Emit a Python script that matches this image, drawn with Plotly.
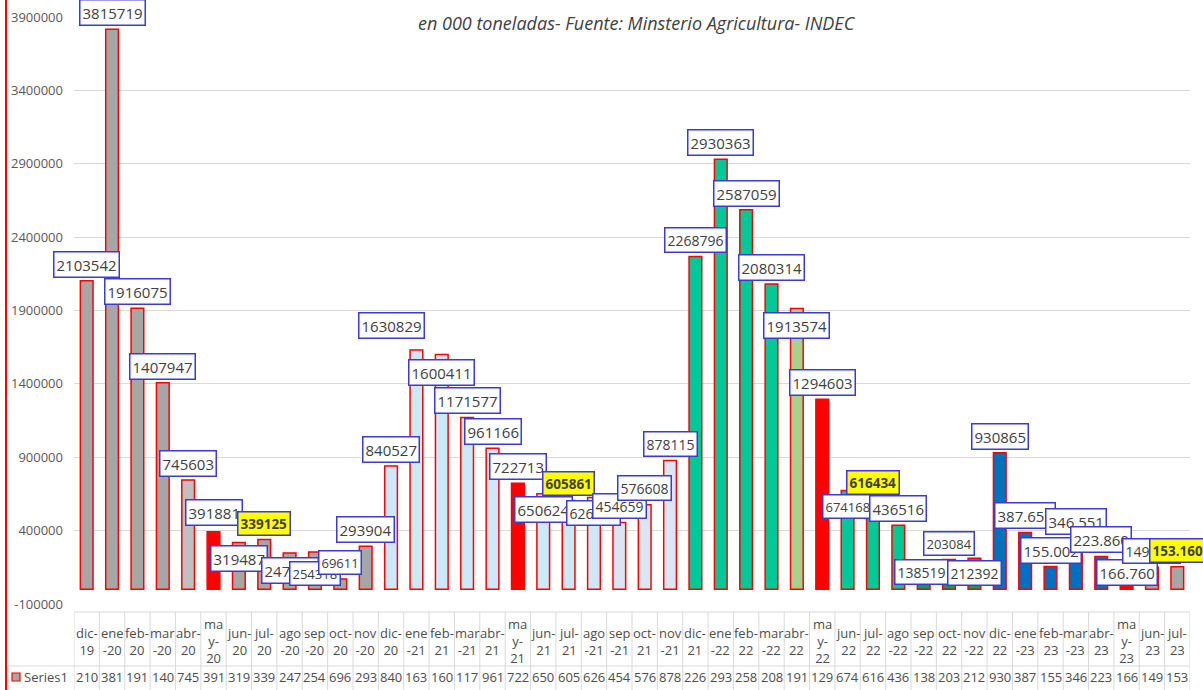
import plotly.graph_objects as go

# ---------------- data ----------------
categories = ["dic-19", "ene-20", "feb-20", "mar-20", "abr-20", "may-20", "jun-20", "jul-20",
              "ago-20", "sep-20", "oct-20", "nov-20", "dic-20", "ene-21", "feb-21", "mar-21",
              "abr-21", "may-21", "jun-21", "jul-21", "ago-21", "sep-21", "oct-21", "nov-21",
              "dic-21", "ene-22", "feb-22", "mar-22", "abr-22", "may-22", "jun-22", "jul-22",
              "ago-22", "sep-22", "oct-22", "nov-22", "dic-22", "ene-23", "feb-23", "mar-23",
              "abr-23", "may-23", "jun-23", "jul-23"]

# category labels as wrapped in the data table
cat_labels = ["dic-<br>19", "ene<br>-20", "feb-<br>20", "mar<br>-20", "abr-<br>20", "ma<br>y-<br>20",
              "jun-<br>20", "jul-<br>20", "ago<br>-20", "sep<br>-20", "oct-<br>20", "nov<br>-20",
              "dic-<br>20", "ene<br>-21", "feb-<br>21", "mar<br>-21", "abr-<br>21", "ma<br>y-<br>21",
              "jun-<br>21", "jul-<br>21", "ago<br>-21", "sep<br>-21", "oct-<br>21", "nov<br>-21",
              "dic-<br>21", "ene<br>-22", "feb-<br>22", "mar<br>-22", "abr-<br>22", "ma<br>y-<br>22",
              "jun-<br>22", "jul-<br>22", "ago<br>-22", "sep<br>-22", "oct-<br>22", "nov<br>-22",
              "dic-<br>22", "ene<br>-23", "feb-<br>23", "mar<br>-23", "abr-<br>23", "ma<br>y-<br>23",
              "jun-<br>23", "jul-<br>23"]

values = [2103542, 3815719, 1916075, 1407947, 745603, 391881, 319487, 339125,
          247402, 254318, 69611, 293904, 840527, 1630829, 1600411, 1171577,
          961166, 722713, 650624, 605861, 626252, 454659, 576608, 878115,
          2268796, 2930363, 2587059, 2080314, 1913574, 1294603, 674168, 616434,
          436516, 138519, 203084, 212392, 930865, 387652, 155002, 346551,
          223860, 166760, 149580, 153160]

series_name = "Series1"
title_text = "en 000 toneladas- Fuente: Minsterio Agricultura- INDEC"
y_ticks = [-100000, 400000, 900000, 1400000, 1900000, 2400000, 2900000, 3400000, 3900000]

# ---------------- styles ----------------
GRAY = "#a6a6a6"; LGRAY = "#c0c0c0"; RED = "#ff0000"; LBLUE = "#cde9f9"; PBLUE = "#dce6f2"
TEAL = "#00c896"; LGREEN = "#a9d18e"; DGREEN = "#00a060"; BLUE = "#0070c0"
bar_colors = ([GRAY] * 4 + [LGRAY] + [RED] + [GRAY] * 6 + [LBLUE] * 5 + [RED] + [LBLUE] * 3 +
              [PBLUE] * 3 + [TEAL] * 4 + [LGREEN] + [RED] + [TEAL] * 3 + [DGREEN] * 3 +
              [BLUE] * 5 + [RED] + [GRAY] * 2)

highlight = {7, 19, 31, 43}                 # yellow labels
label_below = {6: 16, 8: 17, 9: 21, 14: 18, 18: 16, 20: 16, 28: 17, 30: 16, 33: 3, 35: 15, 41: 8}
label_dx = {13: -25, 33: -2}
label_dy_special = {13: -25, 5: -19}
small12 = {9, 10, 30, 34}
small13 = {20, 21, 22, 23, 24, 33, 35, 42}

W, H = 1203, 690
L, R, T, B = 74, 13, 17, 86
PW, PH = W - L - R, H - T - B


def py(p):  # pixel y -> paper y
    return (H - B - p) / PH


def px(p):  # pixel x -> paper x
    return (p - L) / PW


def fmt(i, v):
    return f"{v:,}".replace(",", ".") if categories[i].endswith("23") else str(v)


labels = [fmt(i, v) for i, v in enumerate(values)]
table_vals = [s.replace(".", "")[:3] for s in labels]

fig = go.Figure()
fig.add_trace(go.Bar(
    x=categories, y=values, name=series_name,
    marker=dict(color=bar_colors, line=dict(color=RED, width=1.5)),
    hoverinfo="x+y",
))

FONT = "Open Sans"
TXT = "#404040"
anns = []
for i, (c, v) in enumerate(zip(categories, values)):
    if i in label_below:
        dy = label_below[i]
    else:
        dy = label_dy_special.get(i, -16.5)
    size = 15
    if i in small12:
        size = 13
    elif i in small13:
        size = 14
    text = labels[i]
    bg = "white"
    if i in highlight:
        text = f"<b>{text}</b>"
        bg = "#ffff00"
        size = 13.5
    anns.append(dict(
        x=c, y=v, xref="x", yref="y", text=text, showarrow=False,
        xshift=label_dx.get(i, 0), yshift=-dy,
        font=dict(family=FONT, size=size, color=TXT),
        bgcolor=bg, bordercolor="#3b3bd1", borderwidth=1.5, borderpad=2,
    ))

# data table: category row and value row
for i, c in enumerate(categories):
    anns.append(dict(x=c, y=py(641), xref="x", yref="paper", text=cat_labels[i], showarrow=False,
                     yanchor="middle", font=dict(family=FONT, size=13, color="#4d4d4d")))
    anns.append(dict(x=c, y=py(677), xref="x", yref="paper", text=table_vals[i], showarrow=False,
                     yanchor="middle", font=dict(family=FONT, size=13, color="#4d4d4d")))

anns.append(dict(x=px(22), y=py(677), xref="paper", yref="paper", text=series_name, showarrow=False,
                 xanchor="left", yanchor="middle", font=dict(family=FONT, size=13, color="#4d4d4d")))
anns.append(dict(x=px(637), y=py(23), xref="paper", yref="paper", text=f"<i>{title_text}</i>",
                 showarrow=False, yanchor="middle", font=dict(family=FONT, size=18, color=TXT)))

shapes = []
GRID = "#d9d9d9"
n = len(categories)
for k in range(n + 1):
    shapes.append(dict(type="line", xref="x", yref="paper", x0=k - 0.5, x1=k - 0.5,
                       y0=py(612), y1=py(690), line=dict(color=GRID, width=1)))
shapes.append(dict(type="line", xref="x", yref="paper", x0=-0.5, x1=n - 0.5,
                   y0=py(612), y1=py(612), line=dict(color=GRID, width=1)))
shapes.append(dict(type="line", xref="paper", yref="paper", x0=px(8), x1=1,
                   y0=py(666), y1=py(666), line=dict(color=GRID, width=1)))
shapes.append(dict(type="line", xref="paper", yref="paper", x0=px(8), x1=px(8),
                   y0=py(666), y1=py(690), line=dict(color=GRID, width=1)))
# legend key
shapes.append(dict(type="rect", xref="paper", yref="paper", x0=px(12), x1=px(20),
                   y0=py(681), y1=py(673), fillcolor=GRAY, line=dict(color=RED, width=1.2)))
# red chart border on the left
shapes.append(dict(type="line", xref="paper", yref="paper", x0=px(6), x1=px(6),
                   y0=py(0), y1=py(690), line=dict(color=RED, width=2)))

fig.update_layout(
    width=W, height=H,
    margin=dict(l=L, r=R, t=T, b=B, autoexpand=False),
    paper_bgcolor="white", plot_bgcolor="white",
    showlegend=False, bargap=0.5,
    annotations=anns, shapes=shapes,
    xaxis=dict(type="category", range=[-0.5, n - 0.5], showticklabels=False, automargin=False,
               showgrid=False, zeroline=False, showline=False),
    yaxis=dict(range=[-100000, 3900000], tickmode="array", tickvals=y_ticks, automargin=False,
               ticktext=[str(t) for t in y_ticks], showgrid=True, gridcolor=GRID, gridwidth=1,
               zeroline=False, showline=False, ticklabelstandoff=10,
               tickfont=dict(family=FONT, size=13, color="#595959")),
)

fig.write_html("out.html", config={"displayModeBar": False},
               post_script="document.body.style.margin='0';document.body.style.padding='0';")
